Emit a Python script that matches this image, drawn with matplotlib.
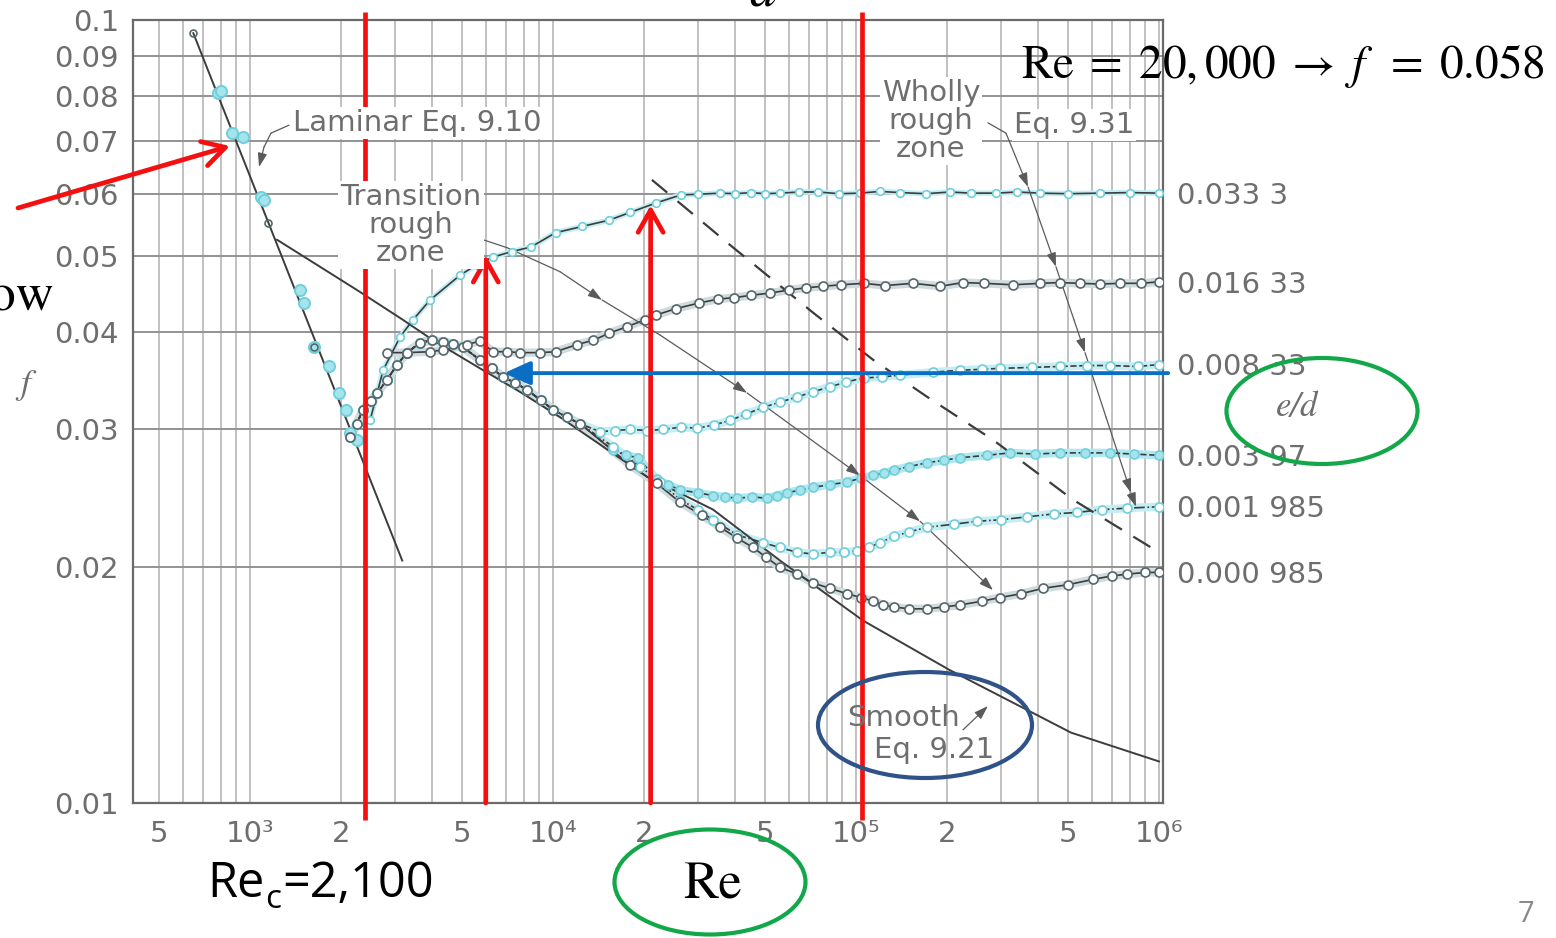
import numpy as np
import matplotlib
matplotlib.use("Agg")
import matplotlib.pyplot as plt
from matplotlib.patches import Ellipse
from matplotlib.ticker import FixedLocator, FuncFormatter, LogLocator

plt.rcParams['mathtext.fontset'] = 'stix'

W, H = 1556, 938

# values (Re, f)
laminar_re = [650, 3180]
laminar_f = [0.0962, 0.0204]
laminar_pts_re = [784, 805, 872, 948, 1087, 1112, 1462, 1508, 1626, 1823, 1966, 2074, 2138, 2255]
laminar_pts_f = [0.0807, 0.0812, 0.0717, 0.0709, 0.0594, 0.0589, 0.0452, 0.0435, 0.0382, 0.0361, 0.0334, 0.0318, 0.0297, 0.0291]
laminar_dark_re = [648, 1150, 1630]
laminar_dark_f = [0.0962, 0.0551, 0.0382]

smooth_re = [1228, 2255, 3199, 4018, 5742, 7782, 10550, 14290, 20430, 33740, 56140, 105500, 202800, 298700, 512300, 1000000]
smooth_f = [0.0524, 0.0452, 0.0414, 0.0390, 0.0359, 0.0335, 0.0311, 0.0287, 0.0261, 0.0237, 0.0204, 0.0171, 0.0148, 0.0137, 0.0123, 0.0113]

# common start of the turbulent data (all e/d below 0.01)
band_re = [2140, 2250, 2360, 2500, 2630, 2830, 3060, 3300, 3640, 3980, 4340, 4690, 5050, 5740, 6280, 6840, 7500, 8210, 9100, 10000, 11100, 12300]
band_f = [0.0293, 0.0305, 0.0318, 0.0326, 0.0334, 0.0347, 0.0363, 0.0376, 0.0387, 0.0390, 0.0388, 0.0386, 0.0382, 0.0368, 0.0359, 0.0350, 0.0344, 0.0337, 0.0327, 0.0318, 0.0311, 0.0305]

ed_0333_re = [2490, 2750, 3130, 3450, 3930, 4930, 5600, 6340, 7300, 8460, 10200, 12500, 15300, 18000, 21900, 26500, 30000, 35600, 40000, 45000,
              50000, 56100, 65000, 75000, 88000, 103000, 120000, 140000, 170000, 204000, 240000, 290000, 340000, 405000, 500000, 639000, 800000, 1000000]
ed_0333_f = [0.0308, 0.0357, 0.0394, 0.0414, 0.0439, 0.0472, 0.0487, 0.0498, 0.0506, 0.0513, 0.0535, 0.0545, 0.0555, 0.0568, 0.0584, 0.0598, 0.0599, 0.0601, 0.0600, 0.0602,
             0.0600, 0.0601, 0.0603, 0.0603, 0.0600, 0.0601, 0.0604, 0.0602, 0.0600, 0.0603, 0.0601, 0.0601, 0.0603, 0.0601, 0.0600, 0.0601, 0.0602, 0.0601]

ed_01633_re = [2830, 3300, 3930, 4340, 5200, 5740, 6340, 7050, 7780, 9060, 10200, 12000, 13600, 15300, 17600,
               20100, 21900, 25500, 30300, 35000, 39600, 45000, 52000, 60000, 68400, 78000, 89200, 106000, 125000, 154000,
               190000, 225000, 265000, 330000, 405000, 470000, 549000, 640000, 743000, 870000, 1000000]
ed_01633_f = [0.0376, 0.0376, 0.0377, 0.0379, 0.0385, 0.0389, 0.0377, 0.0377, 0.0376, 0.0376, 0.0377, 0.0385, 0.0390, 0.0398, 0.0406,
              0.0414, 0.0420, 0.0428, 0.0435, 0.0440, 0.0442, 0.0445, 0.0448, 0.0452, 0.0455, 0.0457, 0.0459, 0.0461, 0.0458, 0.0461,
              0.0457, 0.0462, 0.0461, 0.0459, 0.0461, 0.0462, 0.0461, 0.0460, 0.0461, 0.0461, 0.0463]

ed_00833_re = [14300, 16000, 18000, 20500, 23100, 26500, 29900, 34000, 38400, 43500, 49300, 56000, 63900, 72000, 82100, 93000, 106000, 122000, 140000,
               180000, 220000, 260000, 299000, 380000, 471000, 580000, 689000, 850000, 1000000]
ed_00833_f = [0.0298, 0.0299, 0.0300, 0.0299, 0.0300, 0.0302, 0.0301, 0.0304, 0.0308, 0.0314, 0.0320, 0.0325, 0.0330, 0.0335, 0.0340, 0.0345, 0.0349, 0.0350, 0.0352,
              0.0355, 0.0357, 0.0358, 0.0359, 0.0360, 0.0361, 0.0362, 0.0362, 0.0361, 0.0363]

ed_00397_re = [15800, 17400, 19100, 22000, 24000, 26300, 30000, 33700, 37000, 40500, 45500, 50900, 55000, 59200, 65500, 72100, 82000, 93400, 104000, 114000,
               124000, 133000, 150000, 172000, 195000, 220000, 270000, 322000, 390000, 471000, 570000, 689000, 830000, 1000000]
ed_00397_f = [0.0282, 0.0278, 0.0276, 0.0259, 0.0255, 0.0251, 0.0249, 0.0247, 0.0246, 0.0245, 0.0246, 0.0245, 0.0247, 0.0249, 0.0251, 0.0253, 0.0255, 0.0257, 0.0260, 0.0262,
              0.0264, 0.0266, 0.0269, 0.0272, 0.0274, 0.0276, 0.0278, 0.0280, 0.0279, 0.0280, 0.0280, 0.0280, 0.0279, 0.0278]

ed_001985_re = [15800, 19400, 22500, 26300, 30000, 33700, 40500, 49300, 56000, 63900, 72000, 82100, 91000, 101000, 110000, 120000, 133000, 150000, 172000,
                210000, 251000, 300000, 367000, 450000, 536000, 650000, 785000, 1000000]
ed_001985_f = [0.0285, 0.0269, 0.0257, 0.0244, 0.0237, 0.0230, 0.0220, 0.0215, 0.0212, 0.0209, 0.0208, 0.0209, 0.0209, 0.0210, 0.0212, 0.0215, 0.0219, 0.0222, 0.0225,
               0.0227, 0.0229, 0.0230, 0.0232, 0.0234, 0.0235, 0.0237, 0.0238, 0.0239]

ed_000985_re = [18000, 22000, 26300, 31000, 35600, 40500, 45700, 50500, 56100, 64000, 72100, 82000, 93400, 104000, 114000, 123000, 133000, 150000, 172000,
                195000, 220000, 260000, 299000, 350000, 414000, 500000, 606000, 700000, 785000, 900000, 1000000]
ed_000985_f = [0.0270, 0.0256, 0.0242, 0.0233, 0.0225, 0.0218, 0.0212, 0.0206, 0.0200, 0.0196, 0.0191, 0.0188, 0.0185, 0.0183, 0.0181, 0.0179, 0.0178, 0.0177, 0.0177,
               0.0178, 0.0179, 0.0181, 0.0183, 0.0185, 0.0188, 0.0190, 0.0193, 0.0195, 0.0196, 0.0197, 0.0197]

ed_labels = ['0.033 3', '0.016 33', '0.008 33', '0.003 97', '0.001 985', '0.000 985']

rough_re = [21200, 38400, 72100, 114000, 172000, 283000, 520000, 1000000]
rough_f = [0.0625, 0.0516, 0.0423, 0.0368, 0.0330, 0.0291, 0.0244, 0.0209]

trans_lead_re = [4713, 7050, 10550, 14510, 22550, 43690, 103100, 162700, 283200]
trans_lead_f = [0.0539, 0.0512, 0.0477, 0.0439, 0.0396, 0.0334, 0.0262, 0.0229, 0.0187]
eq931_lead_re = [272600, 312600, 369600, 457100, 524200, 570000, 668700, 808100, 839500]
eq931_lead_f = [0.0739, 0.0717, 0.0612, 0.0484, 0.0414, 0.0376, 0.0311, 0.0249, 0.0239]
lam_lead_re = [1345, 1173, 1112, 1071]
lam_lead_f = [0.0734, 0.0717, 0.0688, 0.0649]
smooth_lead_re = [225500, 272600]
smooth_lead_f = [0.0124, 0.0133]

re_crit_line = 2400
re_wholly = 105000
arrow_re = [6000, 21000]
arrow_f = [0.0501, 0.0580]
blue_re, blue_f = 6890, 0.0354


def px(x, y):
    return x / W, 1 - y / H


fig = plt.figure(figsize=(W / 100, H / 100), dpi=100)
ax = fig.add_axes([133 / W, 1 - 803 / H, 1030 / W, 783 / H])
ax.set_xscale('log')
ax.set_yscale('log')
ax.set_xlim(411, 1.031e6)
ax.set_ylim(0.01, 0.1)

gray_txt = '#6e6e6e'
ax.xaxis.set_major_locator(FixedLocator([1e3, 1e4, 1e5, 1e6]))
ax.xaxis.set_major_formatter(FuncFormatter(lambda v, p: {1e3: '10³', 1e4: '10⁴', 1e5: '10⁵', 1e6: '10⁶'}.get(v, '')))
ax.xaxis.set_minor_locator(LogLocator(10, subs=np.arange(2, 10), numticks=30))


def minor_lab(v, p):
    m = round(v / 10 ** np.floor(np.log10(v) + 1e-9))
    return str(m) if m in (2, 5) else ''


ax.xaxis.set_minor_formatter(FuncFormatter(minor_lab))
ax.yaxis.set_major_locator(FixedLocator([0.01, 0.1]))
ax.yaxis.set_minor_locator(FixedLocator([0.02, 0.03, 0.04, 0.05, 0.06, 0.07, 0.08, 0.09]))
ax.yaxis.set_major_formatter(FuncFormatter(lambda v, p: f'{v:g}'))
ax.yaxis.set_minor_formatter(FuncFormatter(lambda v, p: f'{v:g}'))
ax.tick_params(which='both', length=0, labelsize=21, labelcolor=gray_txt)
ax.tick_params(axis='x', which='both', pad=12)
ax.tick_params(axis='y', which='both', pad=10)

ax.set_axisbelow(True)
ax.xaxis.grid(True, which='both', color='#b0b0b0', lw=1.1)
ax.yaxis.grid(True, which='both', color='#939393', lw=1.4)
for s in ax.spines.values():
    s.set_color('#6a6a6a')
    s.set_linewidth(1.6)

fit = '#3c3c3c'
cyan_e = '#6fcfdc'
cyan_f = '#a6e4ec'
cyan_band = '#c4eef3'
dark_e = '#56666c'
dark_band = '#cfdbde'

# laminar and smooth curves
ax.plot(laminar_re, laminar_f, color=fit, lw=1.4, zorder=3)
ax.plot(smooth_re, smooth_f, color=fit, lw=1.4, zorder=3)
ax.plot(rough_re, rough_f, color=fit, lw=1.6, dashes=(9, 6), zorder=3)

ax.plot(laminar_pts_re, laminar_pts_f, 'o', ms=8, mfc=cyan_f, mec=cyan_e, mew=1.4, zorder=4)
ax.plot(laminar_dark_re, laminar_dark_f, 'o', ms=5, mfc='none', mec=dark_e, mew=1.2, zorder=4)


def series(re, f, ls, mfc, mec, band, ms=6.5, bw=6):
    ax.plot(re, f, color=band, lw=bw, zorder=2.8, solid_capstyle='round')
    ax.plot(re, f, ls=ls, color=fit, lw=1.2, zorder=3)
    ax.plot(re, f, 'o', ms=ms, mfc=mfc, mec=mec, mew=1.2, zorder=4)


lower = [(ed_00833_re, ed_00833_f, '--', 'white', cyan_e, cyan_band),
         (ed_00397_re, ed_00397_f, '--', cyan_f, cyan_e, '#b0e8ef'),
         (ed_001985_re, ed_001985_f, '-.', 'white', cyan_e, cyan_band),
         (ed_000985_re, ed_000985_f, '-', 'white', dark_e, dark_band)]
for re, f, ls, mfc, mec, bnd in lower:
    series(band_re + re, band_f + f, ls, mfc, mec, bnd)
series(ed_0333_re, ed_0333_f, '-', 'white', cyan_e, cyan_band, ms=5.5, bw=4)
series(ed_01633_re, ed_01633_f, '-', 'white', dark_e, dark_band)

ends = [ed_0333_f[-1], ed_01633_f[-1], ed_00833_f[-1], ed_00397_f[-1], ed_001985_f[-1], ed_000985_f[-1]]
for lab, fe in zip(ed_labels, ends):
    ax.annotate(lab, xy=(1, fe), xycoords=ax.get_yaxis_transform(), xytext=(10, -2),
                textcoords='offset points', va='center', ha='left', fontsize=21, color=gray_txt)

# leader lines with arrowheads
lead = dict(color='#5a5a5a', lw=0.9)


def leader(re, f, heads):
    for i in range(1, len(re)):
        style = '-|>,head_length=0.6,head_width=0.2' if i in heads else '-'
        ax.annotate('', xy=(re[i], f[i]), xytext=(re[i - 1], f[i - 1]),
                    arrowprops=dict(arrowstyle=style, shrinkA=0, shrinkB=0, mutation_scale=14, **lead), zorder=3)


leader(trans_lead_re, trans_lead_f, [3, 5, 6, 7, 8])
leader(eq931_lead_re, eq931_lead_f, [2, 3, 5, 7, 8])
leader(lam_lead_re, lam_lead_f, [3])
leader(smooth_lead_re, smooth_lead_f, [1])

# chart annotations
tkw = dict(color=gray_txt, fontsize=21, zorder=2.5)
box = dict(facecolor='white', edgecolor='none', pad=1.5)
fig.text(*px(293, 123), 'Laminar Eq. 9.10', ha='left', va='center', bbox=box, **tkw)
fig.text(*px(411, 225), 'Transition\nrough\nzone', ha='center', va='center', linespacing=1.0, bbox=box, **tkw)
fig.text(*px(931, 121), 'Wholly\nrough\nzone', ha='center', va='center', linespacing=1.0, bbox=box, **tkw)
fig.text(*px(1014, 125), 'Eq. 9.31', ha='left', va='center', bbox=box, **tkw)
fig.text(*px(847, 718), 'Smooth', ha='left', va='center', **tkw)
fig.text(*px(874, 750), 'Eq. 9.21', ha='left', va='center', **tkw)
fig.text(*px(25, 385), 'f', family='STIXGeneral', style='italic', ha='center', va='center', fontsize=26, color=gray_txt)
fig.text(*px(1297, 407), 'e/d', family='STIXGeneral', style='italic', ha='center', va='center', fontsize=25, color=gray_txt)

# slide overlays
red = '#f41010'
for xr in [re_crit_line, re_wholly]:
    ax.plot([xr, xr], [-0.0217, 1.0102], transform=ax.get_xaxis_transform(), color=red, lw=3.4,
            clip_on=False, zorder=6, solid_capstyle='butt')
for xr, fr in zip(arrow_re, arrow_f):
    ax.annotate('', xy=(xr, fr), xytext=(xr, 0.01),
                arrowprops=dict(arrowstyle='->,head_length=0.8,head_width=0.45', color=red, lw=3.4,
                                shrinkA=0, shrinkB=0, mutation_scale=20), zorder=6)
ax.annotate('', xy=(blue_re, blue_f), xytext=(1.005, blue_f), textcoords=ax.get_yaxis_transform(),
            arrowprops=dict(arrowstyle='-|>,head_length=1.0,head_width=0.45', color='#0a6fc4', lw=2.8,
                            shrinkA=0, shrinkB=0, mutation_scale=16), zorder=6, annotation_clip=False)
ax.annotate('', xy=px(230, 146), xycoords='figure fraction', xytext=px(18, 208), textcoords='figure fraction',
            arrowprops=dict(arrowstyle='->,head_length=0.8,head_width=0.45', color=red, lw=3.4,
                            shrinkA=0, shrinkB=0, mutation_scale=20), zorder=6)

for cx, cy, w, h, c in [(1322, 411, 191, 106, '#12a84a'), (710, 882, 191, 105, '#12a84a'),
                        (925, 725, 214, 106, '#2f5289')]:
    fig.add_artist(Ellipse(px(cx, cy), w / W, h / H, transform=fig.transFigure, fill=False, ec=c, lw=3))

fig.text(*px(1021, 78), r'$\mathrm{Re}\;=\;20,000\;\rightarrow\;f\;\;=\;0.058$', fontsize=34,
         ha='left', va='baseline', color='black')
fig.text(*px(712, 898), 'Re', family='STIXGeneral', fontsize=38, ha='center', va='baseline', color='black')
fig.text(*px(55, 310), 'flow', family='STIXGeneral', fontsize=38, ha='right', va='baseline', color='black')
fig.text(*px(762, 6), 'd', family='STIXGeneral', style='italic', fontsize=38, ha='center', va='baseline', color='black')

# Re_c = 2,100 label: pieces placed one after another
fig.canvas.draw()
rend = fig.canvas.get_renderer()
t1 = fig.text(*px(207, 897), 'Re', family='Open Sans', fontsize=35, ha='left', va='baseline', color='black')
x1 = t1.get_window_extent(rend).x1
t2 = fig.text(x1 / W + 1 / W, 1 - 908 / H, 'c', family='Open Sans', fontsize=24, ha='left', va='baseline', color='black')
x2 = t2.get_window_extent(rend).x1
fig.text(x2 / W + 1 / W, 1 - 897 / H, '=2,100', family='Open Sans', fontsize=35, ha='left', va='baseline', color='black')
fig.text(*px(1526, 922), '7', family='Open Sans', fontsize=21, ha='center', va='baseline', color='#8a8a8a')

fig.savefig('out.png', dpi=100)
